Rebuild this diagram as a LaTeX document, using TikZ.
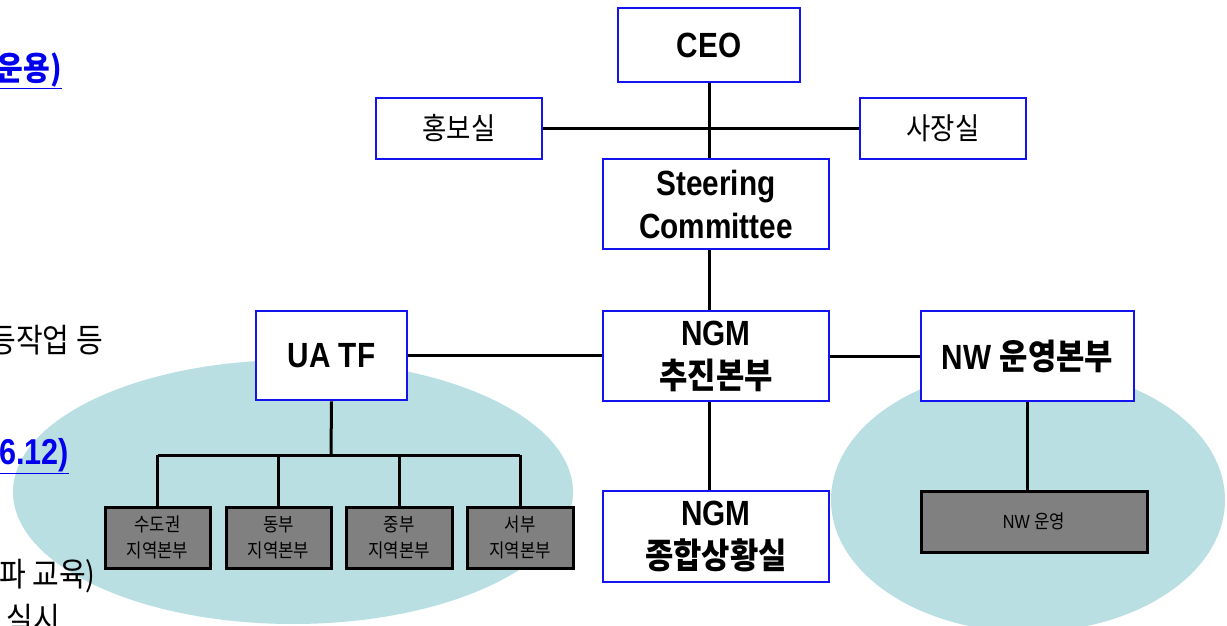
\documentclass[tikz,border=0pt]{standalone}
\usepackage{fontspec}
\setmainfont{Liberation Sans}[FakeStretch=0.85]
\newfontfamily\kr{Noto Sans CJK KR}[FakeStretch=0.88]
\definecolor{bborder}{RGB}{20,20,240}
\definecolor{ellfill}{RGB}{185,223,227}
\definecolor{boxgray}{RGB}{128,128,128}
\definecolor{linkblue}{RGB}{0,0,238}
\tikzset{
  bluebox/.style={draw=bborder, line width=2.8pt, fill=white, inner sep=0pt, align=center},
  graybox/.style={draw=black, line width=3pt, fill=boxgray, inner sep=0pt, align=center,
     minimum height=61pt, font=\kr\fontsize{19}{26}\selectfont},
  conn/.style={line width=3pt, draw=black},
  bigfont/.style={font=\bfseries\fontsize{35}{43}\selectfont},
  midfont/.style={font=\kr\fontsize{30}{36}\selectfont},
  sidetext/.style={inner sep=0pt, anchor=east},
  sidekr/.style={sidetext, font=\kr\fontsize{33}{38}\selectfont}
}
\begin{document}
\begin{tikzpicture}[x=1pt,y=-1pt]
\useasboundingbox (0,0) rectangle (1227,626);
\begin{scope}
\clip (0,0) rectangle (1227,626);
% background ellipses
\fill[ellfill] (293,492) ellipse [x radius=280, y radius=132];
\fill[ellfill] (1028,500) ellipse [x radius=197, y radius=132];
% clipped text fragments at the left edge
\node[sidetext, font=\kr\bfseries\fontsize{33}{38}\selectfont, text=linkblue] (t1) at (62,71) {\underline{운용)}};
\node[sidekr] (t2) at (103,340) {등작업 등};
\node[sidetext, font=\bfseries\fontsize{36}{40}\selectfont, text=linkblue] (t3) at (69,456) {\underline{6.12)}};
\node[sidekr] (t4) at (96,576) {파 교육)};
\node[sidekr] (t5) at (60,619) {실시};
\end{scope}

% boxes
\node[bluebox, bigfont, minimum width=182pt, minimum height=74pt] (ceo) at (709,45) {CEO};
\node[bluebox, midfont, minimum width=166pt, minimum height=61pt] (pr) at (459,128.5) {홍보실};
\node[bluebox, midfont, minimum width=166pt, minimum height=61pt] (pres) at (943,128.5) {사장실};
\node[bluebox, bigfont, minimum width=226pt, minimum height=90pt] (sc) at (716,204) {Steering\\Committee};
\node[bluebox, bigfont, minimum width=151pt, minimum height=89pt] (ua) at (331.5,355.5) {UA TF};
\node[bluebox, bigfont, minimum width=226pt, minimum height=90pt] (ngm) at (716,356) {NGM\\{\kr 추진본부}};
\node[bluebox, bigfont, minimum width=213pt, minimum height=90pt] (nw) at (1027.5,356) {NW {\kr 운영본부}};
\node[bluebox, bigfont, minimum width=226pt, minimum height=91pt] (sit) at (716,536.5) {NGM\\{\kr 종합상황실}};

\node[graybox, minimum width=105pt] (g1) at (157.5,537.5) {수도권\\지역본부};
\node[graybox, minimum width=105pt] (g2) at (278.5,537.5) {동부\\지역본부};
\node[graybox, minimum width=106pt] (g3) at (399,537.5) {중부\\지역본부};
\node[graybox, minimum width=106pt] (g4) at (520,537.5) {서부\\지역본부};
\node[graybox, minimum width=226pt, font=\fontsize{19}{24}\selectfont] (nwop) at (1034,521.5) {NW {\kr 운영}};

% connectors
\coordinate (bar) at (331,455);
\draw[conn] (ceo.south) -- (ceo.south |- sc.north);
\draw[conn] (pr.east) -- (pres.west);
\draw[conn] (ceo.south |- sc.south) -- (ceo.south |- ngm.north);
\draw[conn] (ceo.south |- ngm.south) -- (ceo.south |- sit.north);
\draw[conn] (ua.east) -- (ua.east -| ngm.west);
\draw[conn] (ngm.east) -- (ngm.east -| nw.west);
\draw[conn] (nw.south) -- (nw.south |- nwop.north);
\draw[conn] (ua.south) -- (bar);
\draw[conn] (g1.north |- bar) -- (g4.north |- bar);
\draw[conn] (g1.north |- bar) -- (g1.north);
\draw[conn] (g2.north |- bar) -- (g2.north);
\draw[conn] (g3.north |- bar) -- (g3.north);
\draw[conn] (g4.north |- bar) -- (g4.north);
\end{tikzpicture}
\end{document}
